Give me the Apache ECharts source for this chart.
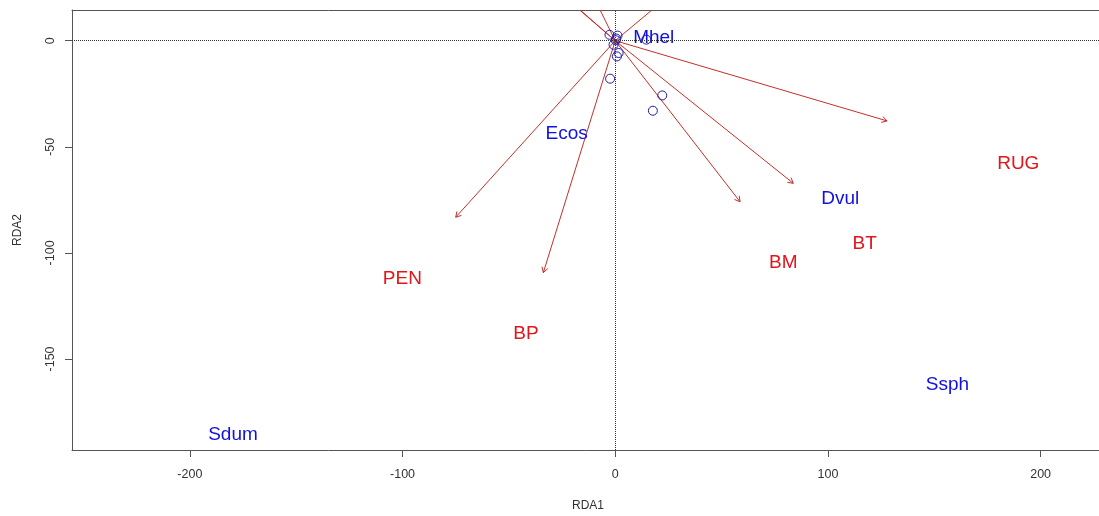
<!DOCTYPE html>
<html>
<head>
<meta charset="utf-8">
<script src="https://cdn.jsdelivr.net/npm/echarts@6/dist/echarts.min.js"></script>
<style>
html,body{margin:0;padding:0;background:#fff;overflow:hidden;}
#c{width:1099px;height:516px;}
</style>
</head>
<body>
<div id="c"></div>
<script>
// ---- data ----
var xTicks = [-200, -100, 0, 100, 200];
var yTicks = [0, -50, -100, -150];

// site scores (open circles)
var siteX = [-2.7, 1.1, 0.3, -0.8, 1.6, 0.8, -2.4, 22.1, 17.7, 14.6, 0.5];
var siteY = [2.8, 2.4, 0.2, -1.9, -5.8, -7.4, -17.9, -25.8, -33.0, 0.5, 1.0];

// arrow tips (from origin)
var arrowX = [127.8, 83.7, 58.7, -33.8, -75.0, -33.0, -35.0, -14.3, 34.6];
var arrowY = [-37.8, -67.2, -75.9, -109.3, -83.2, 29.0, 30.2, 29.0, 29.0];

// blue labels
var blueNames = ['Mhel', 'Ecos', 'Dvul', 'Ssph', 'Sdum'];
var blueX = [18.1, -22.8, 105.8, 156.2, -179.7];
var blueY = [1.7, -43.4, -74.1, -161.5, -185.4];

// red labels
var redNames = ['RUG', 'BT', 'BM', 'PEN', 'BP'];
var redX = [189.5, 117.3, 79.0, -100.1, -42.0];
var redY = [-57.4, -95.4, -104.2, -111.8, -137.7];

var xMin = -255.4, xMax = 229.8, yMin = -192.9, yMax = 14.47;

function pairs(xs, ys) { return xs.map(function (v, i) { return [v, ys[i]]; }); }
function named(names, xs, ys) { return names.map(function (n, i) { return { name: n, value: [xs[i], ys[i]] }; }); }

var FONT = '"Liberation Sans", Arial, sans-serif';
var chart = echarts.init(document.getElementById('c'), null, { renderer: 'canvas' });

function textLabel(color) {
  return {
    show: true, position: 'inside', formatter: function (p) { return p.name; },
    fontFamily: FONT, fontSize: 19, color: color, offset: [0, 1],
    textBorderWidth: 0, textBorderColor: 'transparent', textShadowBlur: 0, opacity: 1
  };
}

chart.setOption({
  animation: false,
  backgroundColor: '#ffffff',
  grid: { left: 72, top: 10, width: 1032, height: 440, containLabel: false, outerBoundsMode: 'none' },
  xAxis: [{
    type: 'value', min: xMin, max: xMax, position: 'bottom',
    name: 'RDA1', nameLocation: 'middle', nameGap: 50,
    nameTextStyle: { fontFamily: FONT, fontSize: 12, color: '#333' },
    axisLine: { show: true, onZero: false, lineStyle: { color: '#555', width: 1 } },
    axisTick: { show: true, inside: false, length: 7, customValues: xTicks, lineStyle: { color: '#555' } },
    axisLabel: { show: true, customValues: xTicks, margin: 18, fontFamily: FONT, fontSize: 12.5, color: '#333' },
    splitLine: { show: false }
  }, {
    type: 'value', min: xMin, max: xMax, position: 'top',
    axisLine: { show: true, onZero: false, lineStyle: { color: '#555', width: 1 } },
    axisTick: { show: false }, axisLabel: { show: false }, splitLine: { show: false }
  }],
  yAxis: [{
    type: 'value', min: yMin, max: yMax, position: 'left',
    name: 'RDA2', nameLocation: 'middle', nameGap: 48, nameRotate: 90,
    nameTextStyle: { fontFamily: FONT, fontSize: 12, color: '#333' },
    axisLine: { show: true, onZero: false, lineStyle: { color: '#555', width: 1 } },
    axisTick: { show: true, inside: false, length: 7, customValues: yTicks, lineStyle: { color: '#555' } },
    axisLabel: { show: true, customValues: yTicks, rotate: 90, margin: 15, fontFamily: FONT, fontSize: 12.5, color: '#333' },
    splitLine: { show: false }
  }],
  series: [
    {
      type: 'custom', name: 'arrows', xAxisIndex: 0, yAxisIndex: 0, clip: true, silent: true, z: 2,
      data: pairs(arrowX, arrowY),
      renderItem: function (params, api) {
        var p0 = api.coord([0, 0]);
        var p1 = api.coord([api.value(0), api.value(1)]);
        var ang = Math.atan2(p1[1] - p0[1], p1[0] - p0[0]);
        var L = 6, a = Math.PI / 6;
        var h1 = [p1[0] - L * Math.cos(ang - a), p1[1] - L * Math.sin(ang - a)];
        var h2 = [p1[0] - L * Math.cos(ang + a), p1[1] - L * Math.sin(ang + a)];
        var st = { stroke: '#c2302c', lineWidth: 1, fill: null };
        return {
          type: 'group',
          children: [
            { type: 'line', shape: { x1: p0[0], y1: p0[1], x2: p1[0], y2: p1[1] }, style: st },
            { type: 'polyline', shape: { points: [h1, p1, h2] }, style: st }
          ]
        };
      }
    },
    {
      type: 'scatter', name: 'sites', z: 3, silent: true,
      symbol: 'circle', symbolSize: 9,
      itemStyle: { color: 'rgba(0,0,0,0)', borderColor: '#1e1eaa', borderWidth: 1, opacity: 1 },
      data: pairs(siteX, siteY),
      markLine: {
        silent: true, symbol: ['none', 'none'], label: { show: false },
        lineStyle: { type: 'dotted', color: '#333', width: 1 },
        data: [{ xAxis: 0 }, { yAxis: 0 }]
      }
    },
    {
      type: 'scatter', name: 'blue', z: 4, silent: true,
      symbolSize: 1, itemStyle: { color: '#ffffff', opacity: 0 },
      label: textLabel('#1010e6'),
      data: named(blueNames, blueX, blueY)
    },
    {
      type: 'scatter', name: 'red', z: 4, silent: true,
      symbolSize: 1, itemStyle: { color: '#ffffff', opacity: 0 },
      label: textLabel('#e3141a'),
      data: named(redNames, redX, redY)
    }
  ]
});
</script>
</body>
</html>
